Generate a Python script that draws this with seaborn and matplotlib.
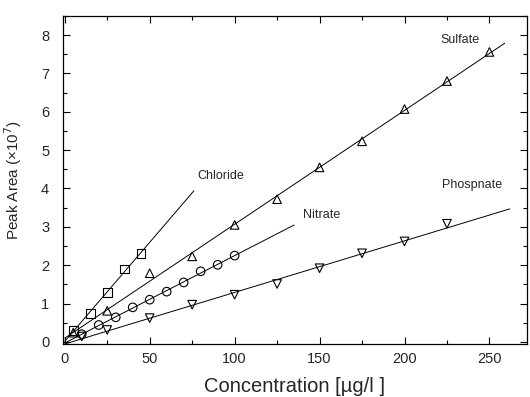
import numpy as np
import pandas as pd
import matplotlib
matplotlib.use("Agg")
import matplotlib.pyplot as plt
from matplotlib.ticker import MultipleLocator
import seaborn as sns

# calibration points (peak area in units of 1e7)
chloride_x = [5, 15, 25, 35, 45]
chloride_y = [0.30, 0.74, 1.29, 1.90, 2.30]

sulfate_x = [5, 25, 50, 75, 100, 125, 150, 175, 200, 225, 250]
sulfate_y = [0.24, 0.81, 1.79, 2.23, 3.05, 3.72, 4.55, 5.23, 6.07, 6.80, 7.56]

nitrate_x = [10, 20, 30, 40, 50, 60, 70, 80, 90, 100]
nitrate_y = [0.20, 0.44, 0.64, 0.90, 1.10, 1.31, 1.55, 1.84, 2.01, 2.25]

phosphate_x = [10, 25, 50, 75, 100, 125, 150, 175, 200, 225]
phosphate_y = [0.14, 0.31, 0.62, 0.97, 1.23, 1.51, 1.92, 2.31, 2.62, 3.08]

# how far each fitted line is drawn
line_end = {"Chloride": 76, "Sulfate": 259, "Nitrate": 135, "Phosphate": 262}

series = {
    "Chloride": (chloride_x, chloride_y),
    "Sulfate": (sulfate_x, sulfate_y),
    "Nitrate": (nitrate_x, nitrate_y),
    "Phosphate": (phosphate_x, phosphate_y),
}

pts = pd.concat(
    [pd.DataFrame({"conc": x, "area": y, "ion": k}) for k, (x, y) in series.items()],
    ignore_index=True,
)

fit_rows = []
for k, (x, y) in series.items():
    slope, icpt = np.polyfit(x, y, 1)
    for xx in (0, line_end[k]):
        fit_rows.append({"conc": xx, "area": slope * xx + icpt, "ion": k})
fits = pd.DataFrame(fit_rows)

sns.set_style("ticks")
plt.rcParams["font.family"] = ["Liberation Sans", "DejaVu Sans"]

fig = plt.figure(figsize=(5.3, 3.97), dpi=100)
ax = fig.add_axes([0.119, 0.134, 0.875, 0.826])

sns.lineplot(data=fits, x="conc", y="area", units="ion", estimator=None,
             color="black", linewidth=0.7, ax=ax)
sns.scatterplot(data=pts, x="conc", y="area", style="ion",
                markers={"Chloride": "s", "Sulfate": "^", "Nitrate": "o", "Phosphate": "v"},
                color="black", facecolor="none", edgecolor="black",
                s=38, linewidth=0.8, legend=False, ax=ax, zorder=3)

ax.text(78, 4.33, "Chloride", fontsize=9, va="center")
ax.text(140, 3.32, "Nitrate", fontsize=9, va="center")
ax.text(221, 7.88, "Sulfate", fontsize=9, va="center")
ax.text(222, 4.10, "Phospnate", fontsize=9, va="center")

ax.set_xlim(-1, 272)
ax.set_ylim(-0.05, 8.5)
ax.xaxis.set_major_locator(MultipleLocator(50))
ax.xaxis.set_minor_locator(MultipleLocator(25))
ax.yaxis.set_major_locator(MultipleLocator(1))
ax.yaxis.set_minor_locator(MultipleLocator(0.5))
ax.tick_params(which="both", direction="in", top=True, right=True,
               width=0.8, color="black", labelsize=10.5)
ax.tick_params(which="major", length=5)
ax.tick_params(which="minor", length=3)
ax.tick_params(axis="y", pad=10)
ax.tick_params(axis="x", pad=6)
for sp in ax.spines.values():
    sp.set_linewidth(0.9)
    sp.set_color("black")

ax.set_xlabel("Concentration [µg/l ]", fontsize=14.5, labelpad=8)
ax.set_ylabel("Peak Area (×10$^7$)", fontsize=11, labelpad=12)

fig.savefig("out.png", dpi=100)
